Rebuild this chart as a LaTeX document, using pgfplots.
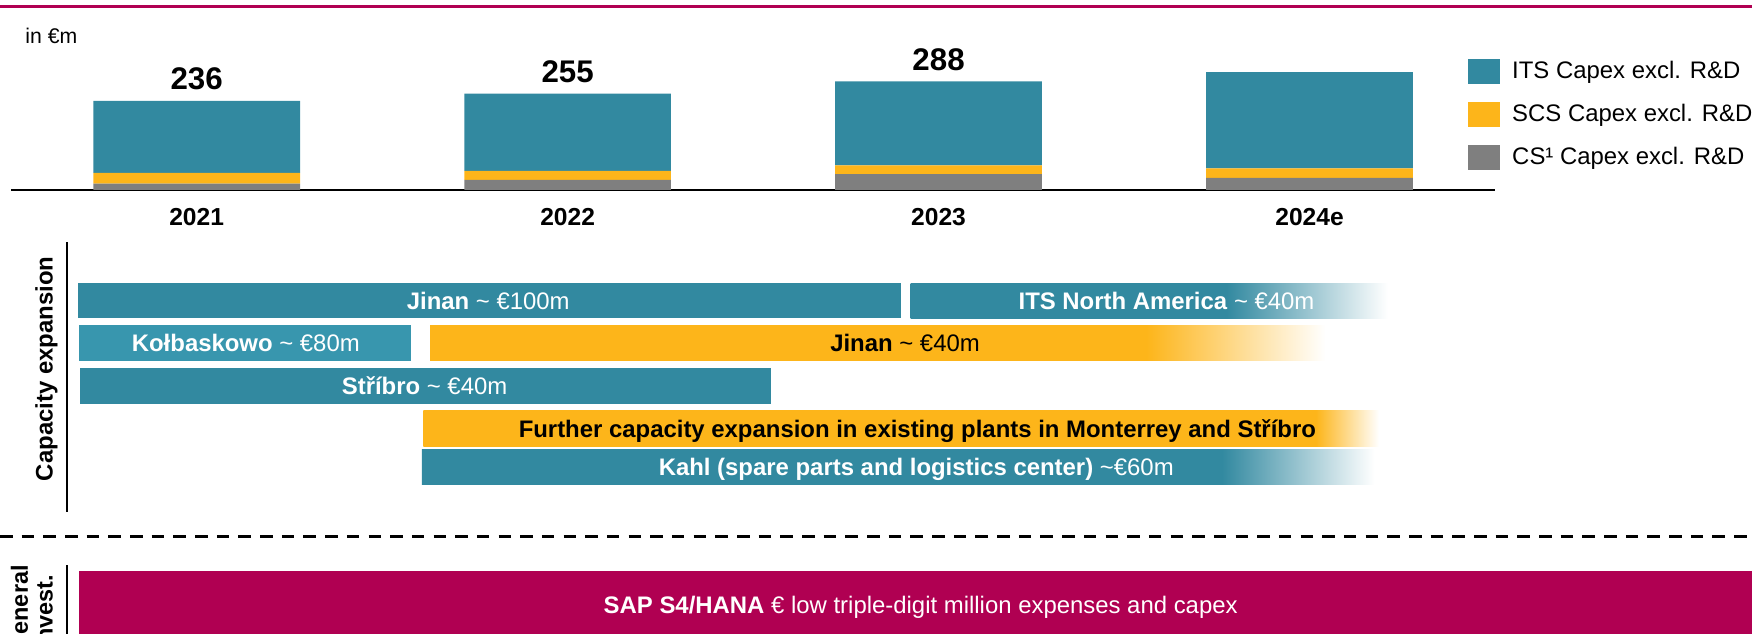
\documentclass[border=0pt]{standalone}
\usepackage{fontspec}
\setmainfont{Liberation Sans}
\usepackage{pgfplots}
\pgfplotsset{compat=1.18}

\definecolor{cTeal}{HTML}{3289A0}
\definecolor{cTealL}{HTML}{3896AE}
\definecolor{cYel}{HTML}{FDB51A}
\definecolor{cGray}{HTML}{7F7F7F}
\definecolor{cMag}{HTML}{B00052}

% solid part then fade to white; 25bp = left edge, 75bp = right edge of the bar
\pgfdeclarehorizontalshading{fITS}{100bp}{color(0bp)=(cTeal); color(58.1bp)=(cTeal); color(75bp)=(white); color(100bp)=(white)}
\pgfdeclarehorizontalshading{fJin}{100bp}{color(0bp)=(cYel); color(65bp)=(cYel); color(75bp)=(white); color(100bp)=(white)}
\pgfdeclarehorizontalshading{fFur}{100bp}{color(0bp)=(cYel); color(71.7bp)=(cYel); color(75bp)=(white); color(100bp)=(white)}
\pgfdeclarehorizontalshading{fKahl}{100bp}{color(0bp)=(cTeal); color(67bp)=(cTeal); color(75bp)=(white); color(100bp)=(white)}

\newcommand\gf{\fontsize{10.7}{12.8}\selectfont}

\pgfplotsset{
  legsq/.style={legend image code/.code={\fill[##1] (0pt,-5.75pt) rectangle (14.5pt,5.75pt);}},
  bar/.style={draw=none, fill=#1},
  fade/.style={draw=none, shade, shading=#1},
}
\tikzset{gl/.style={anchor=base, inner sep=0pt, font=\gf}}

\begin{document}
\begin{tikzpicture}
\useasboundingbox (0,0) rectangle (784pt,-283.5pt);

% canvas in pixel units of the reference (y grows downward)
\begin{axis}[
  at={(0pt,0pt)}, anchor=north west,
  x=0.5pt, y=0.5pt, xmin=0, xmax=1568, ymin=0, ymax=567, y dir=reverse,
  hide axis, clip=false,
]
% rules
\addplot[cMag, line width=1.5pt] coordinates {(0,5.7) (1568,5.7)};
\addplot[black, line width=1.3pt, dash pattern=on 5.6pt off 4.1pt] coordinates {(0,480) (1568,480)};
\addplot[black, line width=0.6pt] coordinates {(60,217) (60,458)};
\addplot[black, line width=0.6pt] coordinates {(60,506) (60,567)};

% capacity expansion rows
\addplot[bar=cTeal] coordinates {(70,253.5) (806,253.5) (806,285) (70,285)} -- cycle;
\addplot[fade=fITS] coordinates {(815,253.5) (1242,253.5) (1242,285) (815,285)} -- cycle;

\addplot[bar=cTealL] coordinates {(71,291) (368,291) (368,323) (71,323)} -- cycle;
\addplot[fade=fJin] coordinates {(385,291) (1186,291) (1186,323) (385,323)} -- cycle;

\addplot[bar=cTeal] coordinates {(71.5,329.5) (690,329.5) (690,361.5) (71.5,361.5)} -- cycle;

\addplot[fade=fFur] coordinates {(379,367) (1234,367) (1234,400) (379,400)} -- cycle;

\addplot[fade=fKahl] coordinates {(377.6,402) (1230,402) (1230,434) (377.6,434)} -- cycle;

% general investment
\addplot[bar=cMag] coordinates {(70.4,511) (1568,511) (1568,575) (70.4,575)} -- cycle;

% texts
\node[gl, anchor=base west, font=\fontsize{9.5}{11}\selectfont] at (axis cs:22.4,39) {in €m};
\node[gl, rotate=90, font=\bfseries\gf] at (axis cs:47,330) {Capacity expansion};
\node[gl, rotate=90, font=\bfseries\fontsize{10.5}{12}\selectfont] at (axis cs:25,545) {General};
\node[gl, rotate=90, font=\bfseries\fontsize{10.5}{12}\selectfont] at (axis cs:47,548) {invest.};

\node[gl, white] at (axis cs:437,277) {\textbf{Jinan} \textasciitilde\ €100m};
\node[gl, white] at (axis cs:1044,277) {\textbf{ITS North America} \textasciitilde\ €40m};
\node[gl, white] at (axis cs:220,314.7) {\textbf{Kołbaskowo} \textasciitilde\ €80m};
\node[gl, black] at (axis cs:810,314.7) {\textbf{Jinan} \textasciitilde\ €40m};
\node[gl, white] at (axis cs:380,353.2) {\textbf{Stříbro} \textasciitilde\ €40m};
\node[gl, black] at (axis cs:821,391.2) {\textbf{Further capacity expansion in existing plants in Monterrey and Stříbro}};
\node[gl, white] at (axis cs:820,425.7) {\textbf{Kahl (spare parts and logistics center)} \textasciitilde€60m};
\node[gl, white] at (axis cs:824,549) {\textbf{SAP S4/HANA} € low triple-digit million expenses and capex};
\end{axis}

% capex bars
\begin{axis}[
  at={(5pt,-85pt)}, anchor=south west,
  x=166pt, y=0.16885pt,
  xmin=-0.5, xmax=3.5, ymin=0, ymax=330,
  ybar stacked, bar width=92.5pt,
  axis x line*=bottom, axis y line=none,
  x axis line style={line width=1pt, black},
  xtick={0,1,2,3},
  xticklabels={\textbf{2021},\textbf{2022},\textbf{2023},\textbf{2024e}},
  major tick length=0pt,
  xticklabel style={anchor=base, yshift=-16pt, font=\fontsize{11}{13}\selectfont},
  ytick=\empty,
  clip=false,
  reverse legend,
  legend cell align=left,
  legend style={at={(axis cs:3.4247,349.4)}, anchor=north west, draw=none, fill=none,
    inner sep=0pt, row sep=7.75pt, column sep=5.5pt, font=\gf, nodes={inner sep=0pt}},
]
\addplot[bar=cGray, legsq] coordinates {(0,17) (1,26.5) (2,42) (3,32)};
\addlegendentry{CS¹ Capex excl. R\&D}
\addplot[bar=cYel, legsq] coordinates {(0,28) (1,24) (2,23) (3,25)};
\addlegendentry{SCS Capex excl. R\&D}
\addplot[bar=cTeal, legsq] coordinates {(0,191) (1,204.5) (2,223) (3,255)};
\addlegendentry{ITS Capex excl. R\&D}
\end{axis}

% totals above the stacks, same geometry
\begin{axis}[
  at={(5pt,-85pt)}, anchor=south west,
  x=166pt, y=0.16885pt,
  xmin=-0.5, xmax=3.5, ymin=0, ymax=330,
  hide axis, clip=false,
]
\addplot[black, only marks, mark=none, nodes near coords, point meta=explicit symbolic,
  every node near coord/.append style={anchor=base, inner sep=0pt, yshift=5pt,
    font=\bfseries\fontsize{14}{16}\selectfont}]
  coordinates {(0,236) [236] (1,255) [255] (2,288) [288]};
\end{axis}
\end{tikzpicture}
\end{document}
